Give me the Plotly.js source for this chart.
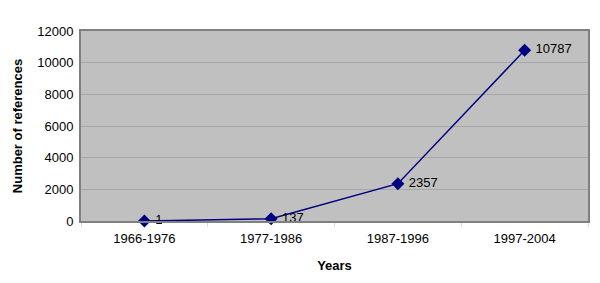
<!DOCTYPE html>
<html><head><meta charset="utf-8">
<script src="https://cdn.plot.ly/plotly-3.0.1.min.js"></script>
<style>html,body{margin:0;padding:0;background:#fff}#chart{width:600px;height:283px}</style>
</head><body><div id="chart"></div>
<script>
const categories = ["1966-1976", "1977-1986", "1987-1996", "1997-2004"];
const references = [1, 137, 2357, 10787];
const labels = ["1", "137", "2357", "10787"];
const yTicks = [0, 2000, 4000, 6000, 8000, 10000, 12000];

const font = {family: "Liberation Sans, Arial, sans-serif", size: 13, color: "#000"};
Plotly.newPlot("chart", [{
  type: "scatter", mode: "lines+markers+text",
  x: categories, y: references,
  text: labels.map(t => " " + t), textposition: "middle right",
  textfont: font,
  line: {color: "#000080", width: 1.5},
  marker: {symbol: "diamond", size: 10, color: "#000080"},
  cliponaxis: false, hoverinfo: "skip"
}], {
  width: 600, height: 283,
  margin: {l: 81, r: 12, t: 31, b: 62},
  paper_bgcolor: "#fff", plot_bgcolor: "#c0c0c0",
  showlegend: false, font: font,
  xaxis: {
    type: "category", range: [-0.5, 3.5], tickson: "boundaries", ticks: "outside", ticklen: 4, tickcolor: "#ddd",
    ticklabelstandoff: 4,
    showline: true, linecolor: "#808080", linewidth: 2, mirror: true,
    showgrid: false, tickfont: font,
    title: {text: "<b>Years</b>", font: font, standoff: 16}
  },
  yaxis: {
    range: [0, 12000], tickvals: yTicks, ticktext: yTicks.map(String),
    showline: true, linecolor: "#808080", linewidth: 2, mirror: true,
    gridcolor: "#a8a8a8", gridwidth: 1, zeroline: false,
    ticks: "outside", ticklen: 3, tickcolor: "#fff", tickfont: font,
    title: {text: "<b>Number of references</b>", font: font, standoff: 12}
  }
}, {staticPlot: true});
</script></body></html>
